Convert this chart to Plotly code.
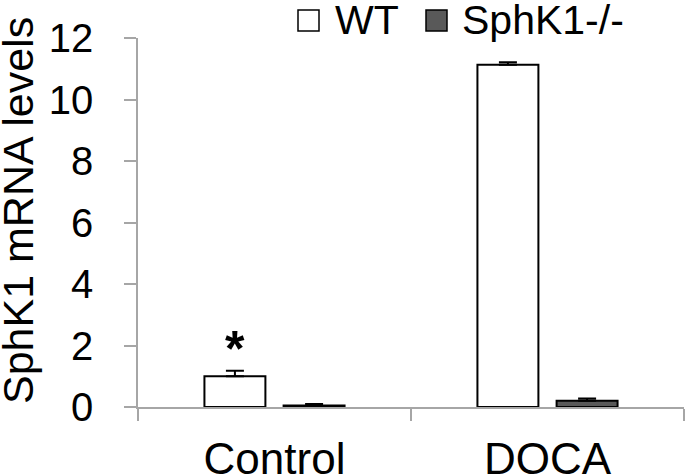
import plotly.graph_objects as go

groups = ["Control", "DOCA"]
wt_values = [1.0, 11.13]
wt_errors = [0.18, 0.08]
ko_values = [0.05, 0.2]
ko_errors = [0.05, 0.08]
series_names = ["WT", "SphK1-/-"]
y_ticks = [0, 2, 4, 6, 8, 10, 12]

FONT = "Liberation Sans, Arial, sans-serif"
AXIS_GREY = "#A6A6A6"

# plot area in pixels (used to place the hand-drawn legend)
W, H = 685, 476
L, R, T, B = 138, 1, 38, 69


def px_x(x):
    return (x - L) / (W - L - R)


def px_y(y):
    return (H - B - y) / (H - T - B)


fig = go.Figure()

fig.add_trace(go.Bar(
    x=groups, y=wt_values, name=series_names[0],
    marker=dict(color="white", line=dict(color="black", width=2)),
    error_y=dict(type="data", array=wt_errors, symmetric=False,
                 arrayminus=[0, 0], color="black", thickness=2, width=9),
    showlegend=False))

fig.add_trace(go.Bar(
    x=groups, y=ko_values, name=series_names[1],
    marker=dict(color="#595959", line=dict(color="black", width=2)),
    error_y=dict(type="data", array=ko_errors, symmetric=False,
                 arrayminus=[0, 0], color="black", thickness=2, width=9),
    showlegend=False))

# significance mark above the control WT bar
fig.add_annotation(x=groups[0], y=wt_values[0] + wt_errors[0], xshift=-39.5, yshift=-8,
                   text="<b>*</b>", showarrow=False, yanchor="bottom",
                   font=dict(family=FONT, size=50, color="black"))

# y-axis title
fig.add_annotation(xref="paper", yref="paper", x=px_x(18), y=px_y(211),
                   text="SphK1 mRNA levels", textangle=-90, showarrow=False,
                   xanchor="center", yanchor="middle",
                   font=dict(family=FONT, size=43, color="black"))

# legend drawn by hand so the swatches can be large
legend_items = [(298, 333, "white"), (426, 460, "#595959")]
for (sx, tx, col), label in zip(legend_items, series_names):
    fig.add_shape(type="rect", xref="paper", yref="paper",
                  x0=px_x(sx), x1=px_x(sx + 21), y0=px_y(31), y1=px_y(10),
                  fillcolor=col, line=dict(color="black", width=1.5))
    fig.add_annotation(xref="paper", yref="paper", x=px_x(tx), y=px_y(20),
                       text=label, showarrow=False, xanchor="left", yanchor="middle",
                       font=dict(family=FONT, size=41, color="black"))

fig.update_layout(
    width=W, height=H,
    margin=dict(l=L, r=R, t=T, b=B),
    plot_bgcolor="white", paper_bgcolor="white",
    barmode="group", bargap=0.42, bargroupgap=0.23,
    font=dict(family=FONT, color="black"),
    showlegend=False,
)

fig.update_yaxes(range=[0, 12], tickvals=y_ticks, ticks="outside", ticklen=12,
                 tickcolor=AXIS_GREY, tickwidth=1.5, showline=True, linecolor=AXIS_GREY,
                 linewidth=1.5, showgrid=False, zeroline=False, automargin=False,
                 tickfont=dict(family=FONT, size=40, color="black"),
                 ticklabelstandoff=23)
fig.update_xaxes(ticks="outside", tickson="boundaries", ticklen=12,
                 tickcolor=AXIS_GREY, tickwidth=1.5, showline=True, linecolor=AXIS_GREY,
                 linewidth=1.5, showgrid=False, automargin=False,
                 tickfont=dict(family=FONT, size=44, color="black"),
                 ticklabelstandoff=12)

# drop the browser's default page margin so the figure sits at the top-left corner
fig.write_html("out.html", config={"displayModeBar": False},
               post_script="document.body.style.margin='0';")
